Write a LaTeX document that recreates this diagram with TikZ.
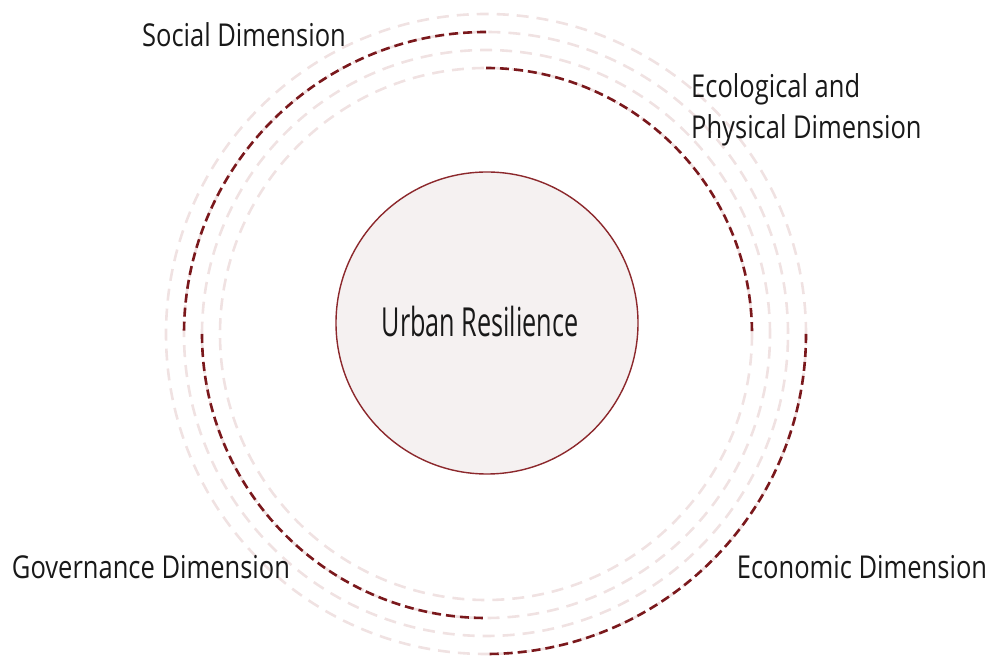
\documentclass[tikz,border=0pt]{standalone}
\usepackage{fontspec}
\newfontfamily\dimfont[FakeStretch=0.81]{Open Sans}
\newfontfamily\corefont[FakeStretch=0.63]{Open Sans}
\definecolor{ringred}{RGB}{122,24,28}
\definecolor{ringpale}{RGB}{240,226,226}
\definecolor{corefill}{RGB}{245,241,241}
\definecolor{coreline}{RGB}{140,40,44}
\begin{document}
\begin{tikzpicture}[x=1pt,y=1pt,
    ring/.style={draw=ringpale, line width=2.6pt, dash pattern=on 12pt off 8pt},
    dimarc/.style={draw=ringred, line width=2.6pt, dash pattern=on 9pt off 5pt},
    dimlabel/.style={inner sep=0pt, text=black!90, font=\dimfont\fontsize{31.5}{40}\selectfont}]
                \useasboundingbox (0,0) rectangle (995,658);
                \coordinate (hub) at (486,324);
                % pale rings
                \foreach \r in {266,284,302,320}
                    \draw[ring] (hub) circle[radius=\r];
                % one quarter per dimension
                \draw[dimarc] (hub) ++(90:302) arc[start angle=90, end angle=180, radius=302];
                \draw[dimarc] (hub) ++(90:266) arc[start angle=90, end angle=0, radius=266];
                \draw[dimarc] (hub) ++(0:320) arc[start angle=0, end angle=-90, radius=320];
                \draw[dimarc] (hub) ++(180:284) arc[start angle=180, end angle=270, radius=284];
                \node[circle, draw=coreline, fill=corefill, line width=1.4pt, minimum size=302pt, inner sep=0pt] (core) at (487,335) {};
                \node[anchor=base, inner sep=0pt, text=black!90, font=\corefont\fontsize{40}{48}\selectfont] (corelabel) at (480,321) {Urban Resilience};
                \node[dimlabel, anchor=base] (social) at (244,611.5) {Social Dimension};
                \node[dimlabel, anchor=base west] (ecoA) at (691,560) {Ecological and};
                \node[dimlabel, anchor=base west] (ecoB) at (691,519) {Physical Dimension};
                \node[dimlabel, anchor=base] (gov) at (151,79) {Governance Dimension};
                \node[dimlabel, anchor=base] (econ) at (862,79) {Economic Dimension};
            \end{tikzpicture}
\end{document}
